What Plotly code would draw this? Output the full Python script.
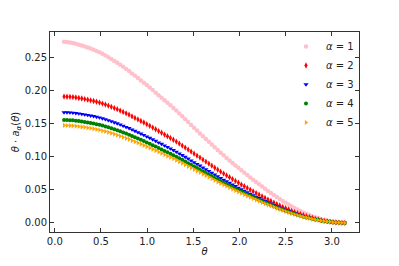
import plotly.graph_objects as go

theta = [round(0.1 + 0.032 * k, 3) for k in range(96)]

alpha1 = [.2740,.2735,.2730,.2722,.2709,.2696,.2683,.2668,.2652,.2636,
          .2618,.2599,.2580,.2557,.2532,.2506,.2479,.2450,.2422,.2392,
          .2360,.2328,.2296,.2260,.2225,.2190,.2155,.2120,.2084,.2046,
          .2008,.1970,.1931,.1893,.1854,.1816,.1778,.1739,.1698,.1655,
          .1612,.1569,.1526,.1482,.1439,.1396,.1353,.1310,.1268,.1227,
          .1185,.1143,.1102,.1060,.1021,.0983,.0945,.0907,.0869,.0832,
          .0795,.0759,.0723,.0688,.0653,.0618,.0584,.0550,.0517,.0484,
          .0453,.0421,.0390,.0361,.0332,.0303,.0277,.0251,.0225,.0202,
          .0180,.0158,.0138,.0120,.0101,.0085,.0071,.0056,.0044,.0034,
          .0024,.0016,.0011,.0007,.0002,.0000]

alpha2 = [.1910,.1908,.1907,.1903,.1896,.1889,.1881,.1873,.1863,.1854,
          .1843,.1832,.1820,.1805,.1790,.1773,.1756,.1737,.1719,.1699,
          .1678,.1657,.1636,.1612,.1588,.1565,.1541,.1518,.1493,.1468,
          .1442,.1416,.1389,.1363,.1336,.1310,.1284,.1257,.1229,.1199,
          .1169,.1139,.1108,.1078,.1047,.1017,.0988,.0956,.0926,.0896,
          .0865,.0834,.0804,.0774,.0745,.0718,.0690,.0662,.0634,.0607,
          .0580,.0554,.0528,.0502,.0477,.0451,.0426,.0402,.0377,.0353,
          .0331,.0307,.0285,.0264,.0242,.0221,.0202,.0183,.0164,.0147,
          .0131,.0115,.0101,.0088,.0074,.0062,.0052,.0041,.0032,.0025,
          .0018,.0012,.0008,.0005,.0001,.0000]

alpha3 = [.1671,.1670,.1669,.1665,.1659,.1653,.1646,.1639,.1630,.1622,
          .1613,.1603,.1593,.1579,.1566,.1551,.1537,.1520,.1504,.1487,
          .1468,.1450,.1432,.1411,.1390,.1369,.1348,.1328,.1306,.1285,
          .1262,.1239,.1215,.1193,.1169,.1146,.1124,.1100,.1075,.1049,
          .1023,.0997,.0970,.0943,.0916,.0890,.0865,.0837,.0810,.0784,
          .0757,.0730,.0704,.0677,.0652,.0628,.0604,.0579,.0555,.0531,
          .0508,.0485,.0462,.0439,.0417,.0395,.0373,.0352,.0330,.0309,
          .0290,.0269,.0249,.0231,.0212,.0193,.0177,.0160,.0144,.0129,
          .0115,.0101,.0088,.0077,.0065,.0054,.0046,.0036,.0028,.0022,
          .0016,.0011,.0007,.0004,.0001,.0000]

alpha4 = [.1557,.1555,.1554,.1551,.1545,.1540,.1533,.1526,.1518,.1511,
          .1502,.1493,.1483,.1471,.1459,.1445,.1431,.1416,.1401,.1385,
          .1368,.1350,.1333,.1314,.1294,.1275,.1256,.1237,.1217,.1196,
          .1175,.1154,.1132,.1111,.1089,.1068,.1046,.1024,.1002,.0977,
          .0953,.0928,.0903,.0879,.0853,.0829,.0805,.0779,.0755,.0730,
          .0705,.0680,.0655,.0631,.0607,.0585,.0562,.0540,.0517,.0495,
          .0473,.0452,.0430,.0409,.0389,.0368,.0347,.0328,.0307,.0288,
          .0270,.0250,.0232,.0215,.0197,.0180,.0165,.0149,.0134,.0120,
          .0107,.0094,.0082,.0072,.0060,.0051,.0042,.0033,.0026,.0020,
          .0015,.0010,.0007,.0004,.0001,.0000]

alpha5 = [.1475,.1473,.1472,.1469,.1464,.1458,.1452,.1446,.1438,.1431,
          .1423,.1414,.1405,.1393,.1382,.1369,.1356,.1341,.1327,.1312,
          .1295,.1279,.1263,.1244,.1226,.1208,.1190,.1172,.1153,.1133,
          .1113,.1093,.1072,.1052,.1031,.1011,.0991,.0970,.0949,.0926,
          .0902,.0879,.0855,.0832,.0808,.0785,.0763,.0738,.0715,.0692,
          .0668,.0644,.0621,.0598,.0575,.0554,.0533,.0511,.0489,.0469,
          .0448,.0428,.0408,.0388,.0368,.0348,.0329,.0310,.0291,.0273,
          .0256,.0237,.0220,.0204,.0187,.0171,.0156,.0141,.0127,.0113,
          .0101,.0089,.0078,.0068,.0057,.0048,.0040,.0032,.0025,.0019,
          .0014,.0009,.0006,.0004,.0001,.0000]

series = [
    ("<i>α</i> = 1", alpha1, "pink", "circle", 4.5),
    ("<i>α</i> = 2", alpha2, "red", "diamond-tall", 4.5),
    ("<i>α</i> = 3", alpha3, "blue", "triangle-down", 4.5),
    ("<i>α</i> = 4", alpha4, "green", "circle", 4),
    ("<i>α</i> = 5", alpha5, "orange", "triangle-right", 4.5),
]

fig = go.Figure()
for name, vals, color, sym, size in series:
    fig.add_trace(go.Scatter(
        x=theta, y=vals, mode="markers", name=name,
        marker=dict(color=color, symbol=sym, size=size, line=dict(width=0)),
    ))

axis_common = dict(
    showgrid=False, zeroline=False, showline=True, linecolor="#333333",
    linewidth=1, mirror="ticks", ticks="inside", ticklen=4, tickwidth=1,
    tickcolor="#333333", automargin=False,
    tickfont=dict(family="DejaVu Sans", size=10, color="#222222"),
)

# the page body has a default 8px margin, so the figure is offset by 8px
fig.update_layout(
    width=399, height=266,
    margin=dict(l=42, r=48, t=24, b=42),
    paper_bgcolor="white", plot_bgcolor="white",
    font=dict(family="DejaVu Sans", size=10, color="#222222"),
    showlegend=True,
    legend=dict(x=1.0, y=1.0, xanchor="right", yanchor="top",
                bgcolor="rgba(0,0,0,0)", borderwidth=0,
                font=dict(family="DejaVu Sans", size=10), itemwidth=30,
                tracegroupgap=0),
)
fig.update_xaxes(range=[-0.052, 3.294], tick0=0, dtick=0.5, tickformat=".1f",
                 title=dict(text="<i>θ</i>", standoff=1,
                            font=dict(family="DejaVu Sans", size=10)),
                 **axis_common)
fig.update_yaxes(range=[-0.0138, 0.2887], tick0=0, dtick=0.05, tickformat=".2f",
                 title=dict(text="<i>θ</i> · <i>a</i><sub><i>α</i></sub>(<i>θ</i>)",
                            standoff=3, font=dict(family="DejaVu Sans", size=10)),
                 **axis_common)

fig.write_html("out.html")
